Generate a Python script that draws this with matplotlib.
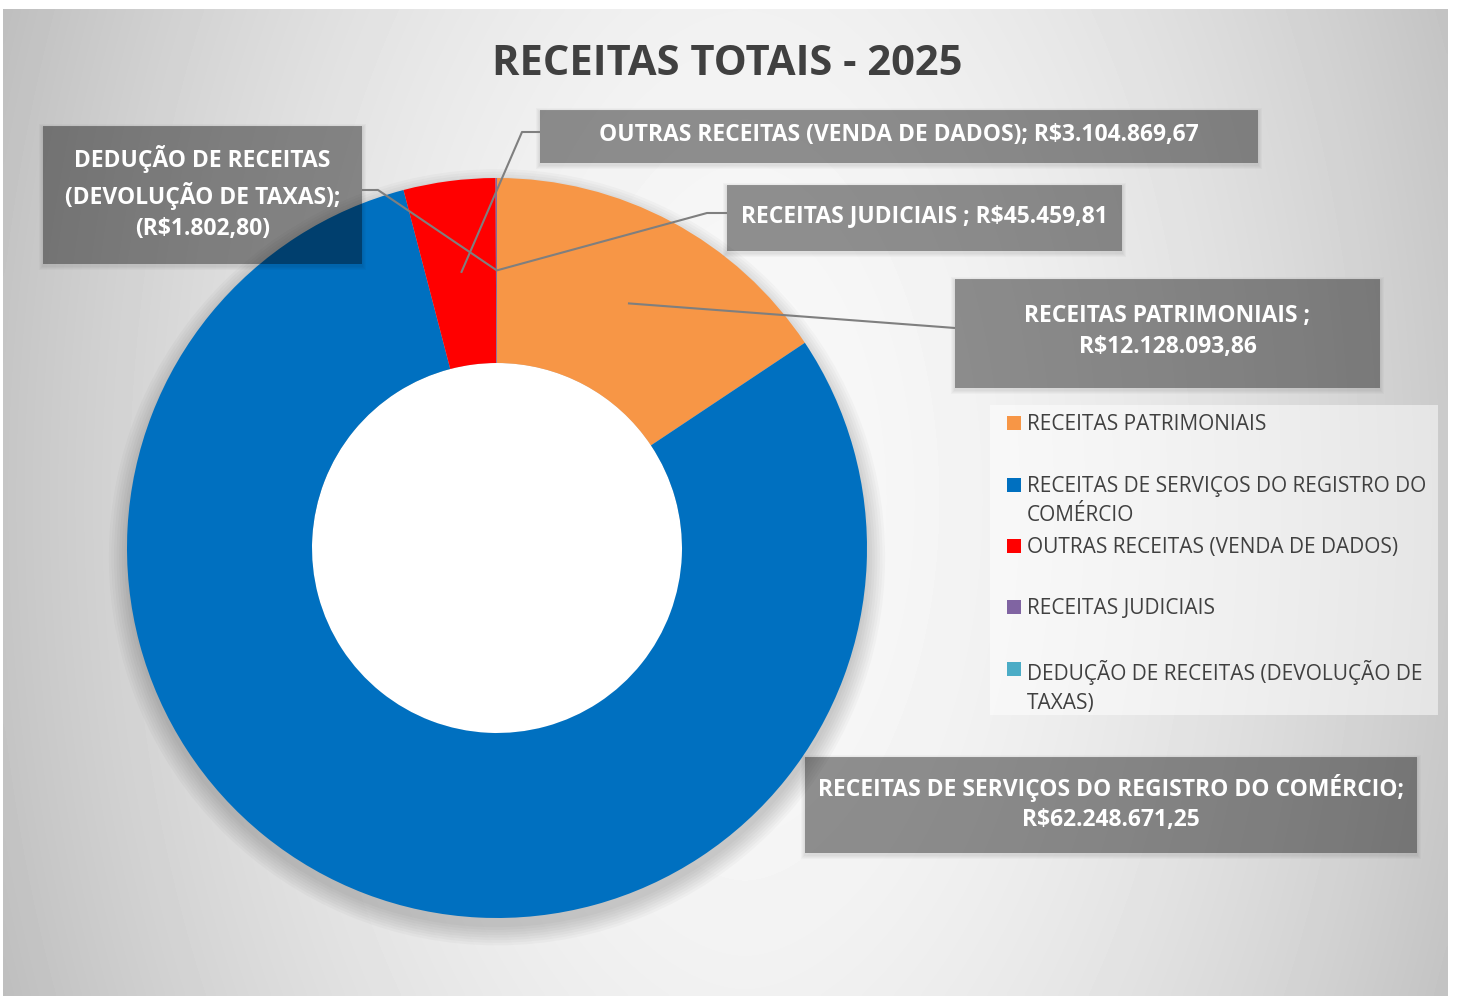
import textwrap
import numpy as np
import matplotlib.pyplot as plt
from matplotlib.patches import Rectangle, Circle, Wedge

plt.rcParams["font.family"] = ["Open Sans", "DejaVu Sans"]

# data (values in R$)
categories = [
    "RECEITAS PATRIMONIAIS",
    "RECEITAS DE SERVIÇOS DO REGISTRO DO COMÉRCIO",
    "OUTRAS RECEITAS (VENDA DE DADOS)",
    "RECEITAS JUDICIAIS",
    "DEDUÇÃO DE RECEITAS (DEVOLUÇÃO DE TAXAS)",
]
values = [12128093.86, 62248671.25, 3104869.67, 45459.81, -1802.80]
colors = ["#F79646", "#0070C0", "#FF0000", "#8064A2", "#4BACC6"]

# how each data label breaks its category name
label_names = [
    "RECEITAS PATRIMONIAIS ;\n",
    "RECEITAS DE SERVIÇOS DO REGISTRO DO COMÉRCIO;\n",
    "OUTRAS RECEITAS (VENDA DE DADOS); ",
    "RECEITAS JUDICIAIS ; ",
    "DEDUÇÃO DE RECEITAS\n(DEVOLUÇÃO DE TAXAS);\n",
]


def brl(v):
    s = f"{abs(v):,.2f}".replace(",", "X").replace(".", ",").replace("X", ".")
    s = "R$" + s
    return f"({s})" if v < 0 else s


W, H = 1460, 996
CX, CY, R = 497, 548, 370  # donut centre / radius in pixels

fig = plt.figure(figsize=(W / 100, H / 100), dpi=100)
fig.patch.set_facecolor("white")

# background with the grey gradient
bg = fig.add_axes([0, 0, 1, 1])
x0, x1, y0, y1 = 3, 1448, 9, 996
xx, yy = np.meshgrid(np.linspace(x0, x1, 400), np.linspace(y0, y1, 300))
dx = np.abs(xx - 745) / ((x1 - x0) / 2)
dy = np.abs(yy - 500) / ((y1 - y0) / 2)
shade = 0.975 - 0.19 * dx ** 1.8 - 0.03 * dy ** 2
bg.imshow(shade, cmap="gray", vmin=0, vmax=1, extent=(x0, x1, y1, y0),
          aspect="auto", interpolation="bicubic")
bg.set_xlim(0, W)
bg.set_ylim(H, 0)
bg.axis("off")

# donut
pad = 1.1
ax = fig.add_axes([(CX - pad * R) / W, (H - CY - pad * R) / H,
                   2 * pad * R / W, 2 * pad * R / H])
for k in range(8):
    ax.add_patch(Wedge((0, -0.025), 1 + 0.007 * k, 0, 360, width=0.5 + 0.007 * k,
                       color="black", alpha=0.022, lw=0, zorder=0))
ax.add_patch(Circle((0, 0), 0.5, color="white", lw=0, zorder=0.5))
sizes = np.abs(values)
wedges, _ = ax.pie(sizes, colors=colors, startangle=90, counterclock=False,
                   radius=1, wedgeprops=dict(width=0.5, edgecolor="none"))
ax.set_xlim(-pad, pad)
ax.set_ylim(-pad, pad)
ax.axis("off")

# overlay for labels, leader lines, legend
ov = fig.add_axes([0, 0, 1, 1])
ov.set_xlim(0, W)
ov.set_ylim(H, 0)
ov.axis("off")
ov.patch.set_alpha(0)

ov.text(727, 64, "RECEITAS TOTAIS - 2025", ha="center", va="center",
        fontsize=30, fontweight="bold", color="#404040")

# slice mid-angles -> leader anchors at mid ring
frac = sizes / sizes.sum()
ends = np.cumsum(frac) * 360
mids = ends - frac * 180
anchors = [(CX + 0.75 * R * np.sin(np.radians(a)),
            CY - 0.75 * R * np.cos(np.radians(a))) for a in mids]

boxes = [
    (955, 279, 1380, 388),
    (805, 757, 1417, 853),
    (540, 110, 1258, 163),
    (727, 185, 1122, 251),
    (43, 126, 362, 264),
]
elbows = [
    [(942, 327), (955, 328)],
    None,
    [(522, 132), (540, 132)],
    [(707, 213), (727, 213)],
    [(378, 190), (362, 190)],
]

for i in range(len(values)):
    bx0, by0, bx1, by1 = boxes[i]
    for k in range(1, 5):
        ov.add_patch(Rectangle((bx0 - k, by0 - k + 2), bx1 - bx0 + 2 * k,
                               by1 - by0 + 2 * k, color="black", alpha=0.025,
                               lw=0))
    ov.add_patch(Rectangle((bx0, by0), bx1 - bx0, by1 - by0, color="black",
                           alpha=0.36, lw=0))
    ov.text((bx0 + bx1) / 2, (by0 + by1) / 2 - 2,
            label_names[i] + brl(values[i]), ha="center", va="center",
            fontsize=16.5, fontweight="bold", color="white", linespacing=1.38)
    if elbows[i]:
        pts = [anchors[i]] + elbows[i]
        ov.plot([p[0] for p in pts], [p[1] for p in pts], color="#7F7F7F",
                lw=1.5, solid_capstyle="butt")

# legend
ov.add_patch(Rectangle((990, 405), 448, 310, color="white", alpha=0.5, lw=0))
rows = [423, 485, 546, 607, 669]
for i, name in enumerate(categories):
    ov.add_patch(Rectangle((1007, rows[i] - 7), 14, 14, color=colors[i],
                           lw=0))
    ov.text(1027, rows[i] - 9, textwrap.fill(name, width=35), ha="left",
            va="top", fontsize=15, color="#404040", linespacing=1.5)

fig.savefig("out.png", dpi=100)
